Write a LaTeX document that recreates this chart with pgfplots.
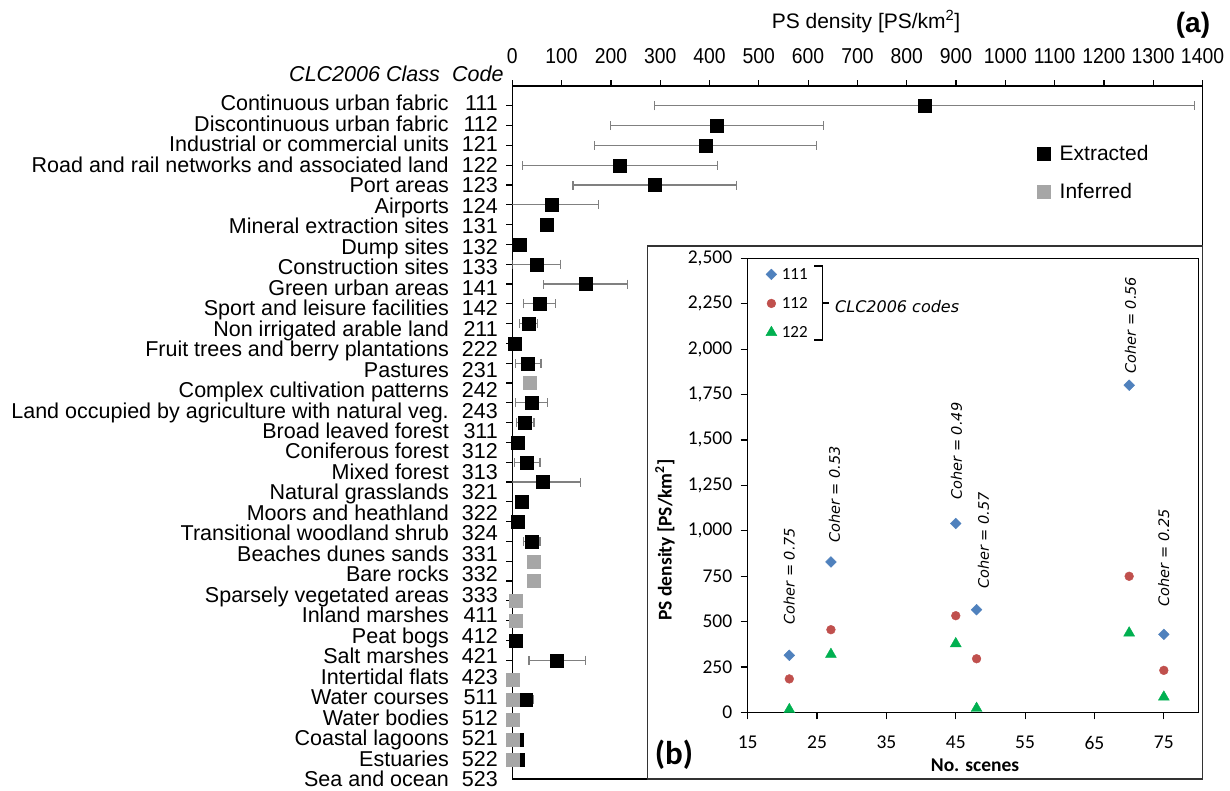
\documentclass[border=0pt]{standalone}
\usepackage{fontspec}
\setmainfont{Liberation Sans}
\newfontfamily\carlito{Carlito}
\newfontfamily\dejavu{DejaVu Sans}
\usepackage{pgfplots}
\pgfplotsset{compat=1.18}
\usepackage{pgfplotstable}

\definecolor{sblue}{HTML}{4F81BD}
\definecolor{sred}{HTML}{C0504D}
\definecolor{sgreen}{HTML}{00B050}
\definecolor{infc}{HTML}{A6A6A6}
\definecolor{errc}{HTML}{808080}
\newcommand{\fs}[1]{\fontsize{#1}{#1}\selectfont}

% row = category position from the top (1 = 111 ... 34)
\pgfplotstableread{
row val err
1 836 548
2 415 216
3 392 225
4 218 198
5 289 166
6 80 95
9 49 49
10 149 85
11 55 33
12 33 18
14 32 26
16 39 32
17 26 18
19 30 26
20 61 78
23 39 17
29 91 57
31 27 16
}\extracted

\pgfplotstableread{
row val
7 70
8 16
13 4
18 11
21 19
22 11
28 7
33 9
34 11
}\extractedb

\pgfplotstableread{
row val
15 36
24 43
25 43
26 7
27 7
30 1
31 1
32 1
33 1
34 1
}\inferred

\pgfplotstableread{
x y
21 314
27 828
45 1040
48 565
70 1801
75 429
}\cA

\pgfplotstableread{
x y
21 184
27 455
45 532
48 295
70 749
75 231
}\cB

\pgfplotstableread{
x y
21 15
27 319
45 378
48 22
70 437
75 84
}\cC

\begin{document}
\begin{tikzpicture}
\useasboundingbox (0pt,0pt) rectangle (1230pt,-790pt);

% ---------------- main chart (a)
\begin{axis}[at={(512.3pt,-779pt)}, anchor=south west, scale only axis,
  width=690.2pt, height=693pt,
  xmin=0, xmax=1400, ymin=0, ymax=35,
  xtick={0,100,...,1400}, ytick={1,...,34}, yticklabels={},
  xtick pos=right, xticklabel pos=right, ytick pos=left,
  tick align=outside, major tick length=6pt,
  tick style={black, line width=1.2pt},
  axis line style={black, line width=1.5pt},
  ticklabel style={font=\fs{21.5}},
  /pgf/number format/assume math mode=true,
  /pgf/number format/1000 sep={},
  xticklabel style={yshift=13pt, xscale=0.9},
  legend style={at={(rel axis cs:0.7595,0.918)}, anchor=north west,
    draw=none, fill=none, font=\fs{21}, row sep=18pt, inner sep=0pt,
    /tikz/every odd column/.append style={column sep=8pt}},
  legend cell align=left,
]
\addplot[only marks, mark=square*, mark size=6.5pt, black,
  error bars/.cd, x dir=both, x explicit,
  error bar style={errc, line width=1.2pt},
  error mark options={errc, line width=1.2pt, mark size=4.5pt, rotate=90}]
  table[x=val, y expr=35-\thisrow{row}, x error=err] {\extracted};
\addlegendentry{Extracted}
\addplot[only marks, mark=square*, mark size=6.5pt, black, forget plot]
  table[x=val, y expr=35-\thisrow{row}] {\extractedb};
\addplot[only marks, mark=square*, mark size=6.5pt, infc]
  table[x=val, y expr=35-\thisrow{row}] {\inferred};
\addlegendentry{Inferred}
\end{axis}

% title and panel letter
\node[anchor=base, font=\fs{21}] at (866pt,-28pt) {PS density [PS/km\textsuperscript{2}]};
\node[anchor=base, font=\bfseries\fs{28}] at (1193pt,-32pt) {(a)};

% header of the category column
\node[anchor=base east, inner sep=0pt, font=\itshape\fs{21.5}] at (440pt,-81.5pt) {CLC2006 Class};
\node[anchor=base west, inner sep=0pt, font=\itshape\fs{21.5}] at (452pt,-81.5pt) {Code};

\foreach \c/\n [count=\i] in {
111/Continuous urban fabric,
112/Discontinuous urban fabric,
121/Industrial or commercial units,
122/Road and rail networks and associated land,
123/Port areas,
124/Airports,
131/Mineral extraction sites,
132/Dump sites,
133/Construction sites,
141/Green urban areas,
142/Sport and leisure facilities,
211/Non irrigated arable land,
222/Fruit trees and berry plantations,
231/Pastures,
242/Complex cultivation patterns,
243/Land occupied by agriculture with natural veg.,
311/Broad leaved forest,
312/Coniferous forest,
313/Mixed forest,
321/Natural grasslands,
322/Moors and heathland,
324/Transitional woodland shrub,
331/Beaches dunes sands,
332/Bare rocks,
333/Sparsely vegetated areas,
411/Inland marshes,
412/Peat bogs,
421/Salt marshes,
423/Intertidal flats,
511/Water courses,
512/Water bodies,
521/Coastal lagoons,
522/Estuaries,
523/Sea and ocean}{
  \node[anchor=base east, inner sep=0pt, font=\fs{21.5}] at (449pt,{-110.8pt-(\i-1)*20.48pt}) {\n};
  \node[anchor=base east, inner sep=0pt, font=\fs{21.5}] at (498pt,{-110.8pt-(\i-1)*20.48pt}) {\c};
}

% ---------------- inset (b)
\draw[black!80, line width=1.3pt, fill=white] (647.3pt,-246pt) rectangle (1202.5pt,-779pt);

\begin{axis}[at={(747.7pt,-712.3pt)}, anchor=south west, scale only axis,
  width=450.8pt, height=454pt,
  xmin=15, xmax=80, ymin=0, ymax=2500,
  xtick={15,25,...,75}, ytick={0,250,...,2500},
  xtick pos=left, ytick pos=left, tick align=outside, major tick length=7pt,
  tick style={black, line width=1.2pt},
  axis line style={black, line width=1.4pt},
  ticklabel style={font=\carlito\fs{19.5}},
  /pgf/number format/assume math mode=true,
  /pgf/number format/1000 sep={,},
  yticklabel style={xshift=-5pt}, xticklabel style={yshift=-13pt},
  clip=false,
  legend style={at={(rel axis cs:0.04,0.983)}, anchor=north west,
    draw=none, fill=none, font=\carlito\fs{17}, row sep=12.5pt, inner sep=0pt,
    /tikz/every odd column/.append style={column sep=3pt}},
  legend cell align=left,
]
\addplot[only marks, mark=square*, mark size=3.8pt, mark options={rotate=45}, sblue]
  table[x=x, y=y] {\cA};
\addlegendentry{111}
\addplot[only marks, mark=*, mark size=4.4pt, sred]
  table[x=x, y=y] {\cB};
\addlegendentry{112}
\addplot[only marks, mark=triangle*, mark size=6.3pt, sgreen]
  table[x=x, y=y] {\cC};
\addlegendentry{122}

\begin{scope}[every node/.style={rotate=90, anchor=west, inner sep=0pt, font=\dejavu\itshape\fs{14.5}}]
\node at (axis cs:21,482) {Coher = 0.75};
\node at (axis cs:27.5,932) {Coher = 0.53};
\node at (axis cs:45.1,1171) {Coher = 0.49};
\node at (axis cs:49,679) {Coher = 0.57};
\node at (axis cs:70.2,1864) {Coher = 0.56};
\node at (axis cs:75,583) {Coher = 0.25};
\end{scope}
\end{axis}

\draw[line width=1.2pt] (814pt,-266pt) -- (822.4pt,-266pt) -- (822.4pt,-340pt) -- (814pt,-340pt);
\draw[line width=1.2pt] (822.4pt,-303pt) -- (829pt,-303pt);
\node[anchor=west, inner sep=0pt, font=\dejavu\itshape\fs{16}] at (835pt,-306.7pt) {CLC2006 codes};

\node[rotate=90, font=\carlito\bfseries\fs{19.5}] at (665pt,-540pt) {PS density [PS/km\textsuperscript{2}]};
\node[anchor=base, font=\carlito\bfseries\fs{19.5}] at (975pt,-771pt) {No. scenes};
\node[anchor=base, font=\carlito\bfseries\fs{33}] at (674pt,-764pt) {(b)};
\end{tikzpicture}
\end{document}
